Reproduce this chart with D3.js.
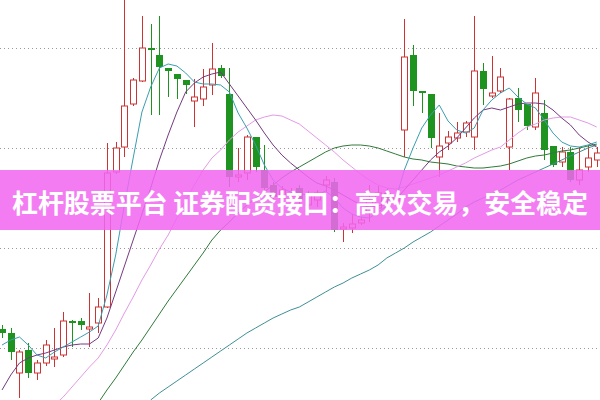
<!DOCTYPE html>
<html><head><meta charset="utf-8">
<script src="https://cdn.jsdelivr.net/npm/d3@7"></script>
<style>html,body{margin:0;padding:0;background:#fff;}svg{display:block;}</style>
</head><body>
<svg id="c" width="600" height="400"></svg>
<script>
// OHLC candles: [open, high, low, close]
const candles = [
[5.19,5.23,5.10,5.15],[5.15,5.20,4.88,4.96],[4.75,4.98,4.50,4.96],[4.98,5.05,4.70,4.75],[4.75,4.88,4.68,4.85],
[4.85,5.08,4.82,5.03],[4.89,5.20,4.81,4.91],[4.93,5.36,4.91,5.27],[5.27,5.28,5.01,5.25],[5.27,5.30,5.18,5.23],
[5.19,5.55,5.01,5.21],[5.25,5.50,5.15,5.41],[5.41,7.05,5.40,6.75],[6.76,7.06,6.74,7.00],[7.01,8.55,6.91,7.42],
[7.44,7.70,7.42,7.68],[7.67,8.32,7.66,8.00],[8.00,8.24,7.33,7.98],[7.93,8.32,7.33,7.81],[7.80,7.80,7.51,7.77],
[7.74,7.74,7.49,7.69],[7.68,7.68,7.54,7.63],[7.47,7.69,7.21,7.51],[7.49,7.79,7.42,7.61],[7.63,8.05,7.53,7.79],
[7.80,7.83,7.70,7.72],[7.54,7.80,6.61,6.71],[6.71,7.00,6.66,6.73],[6.75,7.13,6.68,7.11],[7.11,7.11,6.76,6.81],
[6.78,7.03,6.58,6.60],[6.63,6.66,6.48,6.51],[6.50,6.62,6.45,6.58],[6.52,6.60,6.46,6.54],[6.60,6.63,6.44,6.48],
[6.43,6.57,6.40,6.53],[6.48,6.58,6.41,6.55],[6.63,6.72,6.56,6.68],[6.66,6.70,6.16,6.18],[6.19,6.25,6.06,6.21],
[6.20,6.34,6.15,6.24],[6.25,6.31,6.23,6.28],[6.36,6.63,6.26,6.48],[6.40,6.62,6.36,6.55],[6.55,6.60,6.44,6.48],
[6.47,6.58,6.42,6.52],[7.18,8.29,6.91,7.91],[7.93,8.03,7.42,7.57],[7.57,7.57,7.35,7.55],[7.54,7.54,7.00,7.10],
[6.91,7.35,6.71,7.02],[7.05,7.17,6.98,7.11],[7.10,7.26,7.06,7.15],[7.16,7.27,7.11,7.25],[7.11,8.32,6.98,7.77],
[7.77,7.85,7.43,7.59],[7.52,7.92,7.50,7.55],[7.57,7.80,7.55,7.71],[7.01,7.50,6.78,7.49],[7.50,7.60,7.26,7.38],
[7.44,7.44,7.18,7.22],[7.21,7.70,7.18,7.55],[7.35,7.48,6.88,6.98],[7.02,7.02,6.81,6.83],[6.86,7.01,6.81,6.96],
[6.96,7.01,6.66,6.68],[6.68,7.01,6.63,6.78],[6.81,7.03,6.76,6.90],[6.88,7.01,6.81,6.95]
];
const ma5 = [5.03,5.08,5.11,5.03,4.93,4.90,4.96,5.01,5.06,5.11,5.16,5.22,5.53,5.93,6.43,6.90,7.36,7.61,7.80,7.84,
7.82,7.75,7.66,7.64,7.64,7.63,7.56,7.35,7.20,7.03,6.83,6.68,6.60,6.56,6.54,6.53,6.53,6.57,6.50,6.40,
6.34,6.31,6.30,6.36,6.42,6.48,6.78,7.00,7.20,7.33,7.43,7.27,7.18,7.15,7.20,7.38,7.48,7.55,7.60,7.51,
7.44,7.40,7.28,7.15,7.06,7.02,7.01,7.03,7.06];
const ma10 = [4.58,4.73,4.85,4.90,4.93,4.95,4.98,5.01,5.03,5.04,5.04,5.10,5.30,5.56,5.82,6.08,6.34,6.60,6.88,7.13,
7.36,7.56,7.65,7.71,7.74,7.76,7.64,7.52,7.40,7.28,7.15,7.03,6.93,6.85,6.78,6.71,6.65,6.62,6.58,6.53,
6.48,6.43,6.41,6.42,6.44,6.48,6.58,6.68,6.78,6.88,6.96,7.02,7.10,7.20,7.30,7.38,7.40,7.38,7.41,7.44,
7.45,7.45,7.44,7.38,7.30,7.23,7.13,7.06,7.01];
const ma20 = [null,null,null,null,null,null,4.43,4.51,4.61,4.71,4.81,4.90,5.03,5.18,5.35,5.51,5.68,5.83,5.99,6.13,
6.30,6.48,6.63,6.78,6.90,6.98,7.08,7.16,7.22,7.28,7.31,7.33,7.32,7.28,7.24,7.17,7.10,7.03,6.96,6.88,
6.81,6.74,6.68,6.63,6.60,6.59,6.61,6.64,6.67,6.70,6.73,6.77,6.81,6.85,6.90,6.94,6.98,7.01,7.08,7.15,
7.21,7.24,7.28,7.30,7.31,7.31,7.28,7.25,7.21];
const ma60 = [null,null,null,null,null,null,null,null,null,null,null,4.45,4.58,4.70,4.83,4.96,5.08,5.21,5.34,5.47,
5.59,5.71,5.83,5.95,6.08,6.18,6.26,6.35,6.43,6.50,6.56,6.63,6.70,6.76,6.81,6.86,6.91,6.96,7.00,7.02,
7.03,7.03,7.02,7.00,6.97,6.94,6.91,6.89,6.88,6.86,6.85,6.84,6.82,6.81,6.80,6.80,6.81,6.82,6.84,6.87,
6.90,6.92,6.93,6.95,6.97,6.98,7.00,7.02,7.04];
const ma120 = [null,null,null,null,null,null,null,null,null,null,null,null,null,null,null,null,null,4.48,4.55,4.61,
4.67,4.73,4.79,4.85,4.91,4.97,5.03,5.09,5.15,5.20,5.25,5.30,5.34,5.38,5.41,5.46,5.51,5.56,5.61,5.65,
5.70,5.74,5.78,5.83,5.90,5.95,6.00,6.06,6.11,6.16,6.22,6.28,6.34,6.41,6.46,6.50,6.54,6.58,6.63,6.68,
6.72,6.76,6.80,6.84,6.88,6.92,6.96,7.00,7.03];
const gridPrices = [5, 6, 7, 8];
const bannerText = "杠杆股票平台 证券配资接口：高效交易，安全稳定";

const W = 600, H = 400;
const svg = d3.select("#c");
const idx = d3.range(candles.length);
const x = d3.scalePoint().domain(idx).range([2, 596.7]);
const y = d3.scaleLinear().domain([4.48, 8.48]).range([H, 0]);

// grid
const gridAxis = d3.axisLeft(y).tickValues(gridPrices).tickSize(-W).tickFormat("");
const g = svg.append("g").attr("transform", "translate(0,0)").call(gridAxis);
g.select(".domain").remove();
g.selectAll(".tick line").attr("stroke", "#9a9a9a").attr("stroke-dasharray", "1,3").attr("shape-rendering","crispEdges");

const px = i => Math.round(x(i)) + 0.5;
const up = d => d[3] >= d[0];
const red = "#cc3333", green = "#1f931f";

// wicks
svg.append("g").selectAll("line").data(candles).join("line")
  .attr("x1", (d,i) => px(i)).attr("x2", (d,i) => px(i))
  .attr("y1", d => y(d[1])).attr("y2", d => y(d[2]))
  .attr("stroke", d => up(d) ? red : green).attr("stroke-width", 1);

// bodies
svg.append("g").selectAll("rect").data(candles).join("rect")
  .attr("x", (d,i) => up(d) ? px(i) - 3 : px(i) - 3.5)
  .attr("y", d => y(Math.max(d[0], d[3])))
  .attr("width", d => up(d) ? 6 : 7)
  .attr("height", d => Math.max(1.5, Math.abs(y(d[0]) - y(d[3]))))
  .attr("fill", d => up(d) ? "#ffffff" : green)
  .attr("stroke", d => up(d) ? red : "none")
  .attr("stroke-width", 1);

// moving averages
const line = d3.line().defined(v => v != null).x((v,i) => x(i)).y(v => y(v)).curve(d3.curveLinear);
const mas = [
  [ma120, "#3f8f95"],
  [ma60, "#2f7a3a"],
  [ma20, "#e49ae6"],
  [ma10, "#743a80"],
  [ma5, "#3a9fae"]
];
mas.forEach(([arr, col]) => {
  svg.append("path").datum(arr).attr("d", line).attr("fill", "none")
    .attr("stroke", col).attr("stroke-width", 1);
});

// banner
svg.append("rect").attr("x", 0).attr("y", 170).attr("width", W).attr("height", 60)
  .attr("fill", "rgb(241,102,241)").attr("fill-opacity", 0.86);
svg.append("text").attr("x", 300).attr("y", 201)
  .attr("text-anchor", "middle").attr("dominant-baseline", "central")
  .attr("font-family", "'Noto Sans CJK SC', sans-serif").attr("font-weight", "bold")
  .attr("font-size", 26).attr("fill", "#ffffff")
  .attr("textLength", 576).attr("lengthAdjust", "spacing")
  .text(bannerText);
</script>
</body></html>
